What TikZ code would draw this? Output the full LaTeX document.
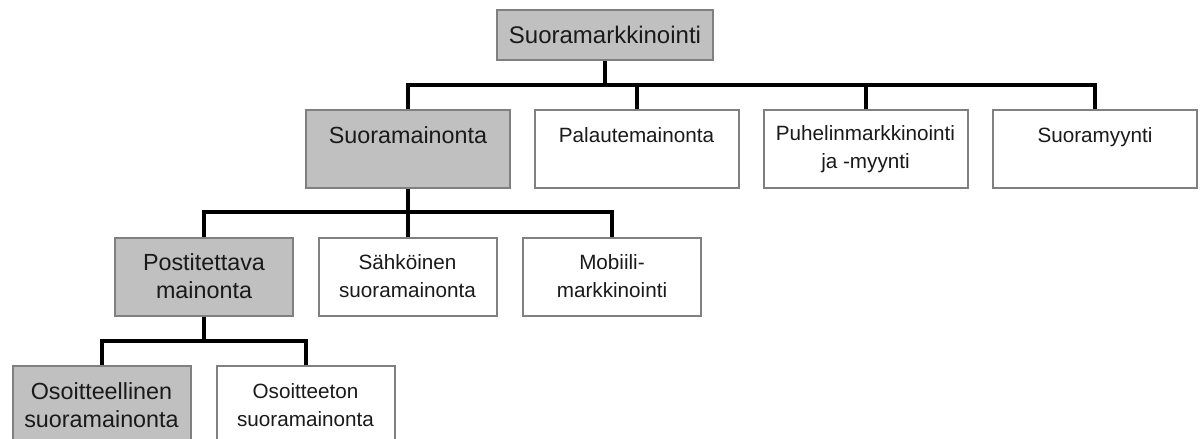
\documentclass[tikz,border=0pt]{standalone}
\usepackage{fontspec}
\setmainfont{Liberation Sans}
\usepackage{tikz}

\definecolor{boxline}{HTML}{808080}
\definecolor{boxfill}{HTML}{C0C0C0}
\definecolor{boxtext}{HTML}{1A1A1A}

\tikzset{
  orgbox/.style={draw=boxline, line width=1.5pt, align=center, inner sep=0pt,
    text=boxtext, minimum width=133.5pt, minimum height=58.5pt},
  greybox/.style={orgbox, fill=boxfill, font=\fontsize{17.5}{21}\selectfont},
  whitebox/.style={orgbox, fill=white, font=\fontsize{15.5}{21}\selectfont},
  link/.style={line width=3pt, black},
}

\begin{document}
\begin{tikzpicture}[x=0.75pt, y=-0.75pt]
\useasboundingbox (0,0) rectangle (1204,439);

% Top level
\node[greybox, minimum width=162pt, minimum height=37.5pt, font=\fontsize{18}{21}\selectfont]
  (suoramark) at (605,35) {Suoramarkkinointi};

% Second level
\node[greybox, minimum width=153pt] (suoramain) at (408,149) {Suoramainonta\\\mbox{}};
\node[whitebox, minimum width=153pt] (palaute) at (636.5,149) {Palautemainonta\\\mbox{}};
\node[whitebox, minimum width=153pt] (puhelin) at (865.5,149) {Puhelinmarkkinointi\\ja -myynti};
\node[whitebox, minimum width=153pt] (suoramyynti) at (1095,149) {Suoramyynti\\\mbox{}};

% Third level
\node[greybox] (postitettava) at (204,276.5) {Postitettava\\mainonta};
\node[whitebox] (sahkoinen) at (407.5,276.5) {Sähköinen\\suoramainonta};
\node[whitebox] (mobiili) at (612,276.5) {Mobiili-\\markkinointi};

% Fourth level
\node[greybox] (osoitteellinen) at (101.5,405) {Osoitteellinen\\suoramainonta};
\node[whitebox] (osoitteeton) at (305.5,405) {Osoitteeton\\suoramainonta};

% Links from top level
\draw[link] (suoramark.south) -- ++(0,24) -| (suoramain.north);
\draw[link] (suoramark.south) -- ++(0,24) -| (palaute.north);
\draw[link] (suoramark.south) -- ++(0,24) -| (puhelin.north);
\draw[link] (suoramark.south) -- ++(0,24) -| (suoramyynti.north);

% Links from Suoramainonta
\draw[link] (suoramain.south) -- ++(0,23) -| (postitettava.north);
\draw[link] (suoramain.south) -- ++(0,23) -| (sahkoinen.north);
\draw[link] (suoramain.south) -- ++(0,23) -| (mobiili.north);

% Links from Postitettava mainonta
\draw[link] (postitettava.south) -- ++(0,24) -| (osoitteellinen.north);
\draw[link] (postitettava.south) -- ++(0,24) -| (osoitteeton.north);

\end{tikzpicture}
\end{document}
